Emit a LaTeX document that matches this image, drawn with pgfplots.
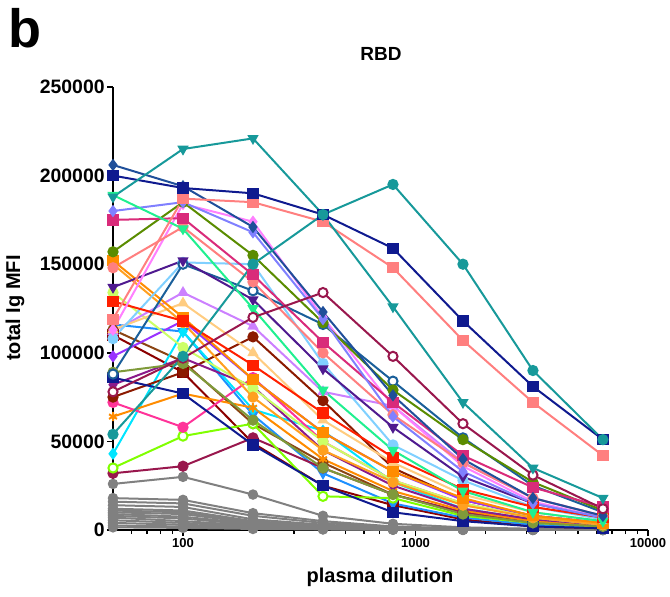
\documentclass[border=0pt]{standalone}
\usepackage{fontspec}
\setmainfont{Liberation Sans}
\usepackage{pgfplots}
\usepackage{pgfplotstable}
\pgfplotsset{compat=1.18}
\definecolor{tealA}{HTML}{17999A}
\definecolor{navyC}{HTML}{0F1A8F}
\definecolor{salmonD}{HTML}{FF7F7F}
\definecolor{steelE}{HTML}{1F4F9A}
\definecolor{springF}{HTML}{20F090}
\definecolor{slateG}{HTML}{8080FF}
\definecolor{ceriseH}{HTML}{D92B7A}
\definecolor{oliveI}{HTML}{5A8C00}
\definecolor{pinkJ}{HTML}{FF80FF}
\definecolor{indigoK}{HTML}{4F1A8F}
\definecolor{redL}{HTML}{FF2000}
\definecolor{steelM}{HTML}{1A5F9A}
\definecolor{lblueN}{HTML}{80D0FF}
\definecolor{orangeO}{HTML}{FF8C00}
\definecolor{orangeP}{HTML}{FFA020}
\definecolor{peachQ}{HTML}{FFCC80}
\definecolor{lilacR}{HTML}{CC80FF}
\definecolor{ygS}{HTML}{CCFF66}
\definecolor{violetT}{HTML}{9933FF}
\definecolor{oliveU}{HTML}{7F9A3A}
\definecolor{dmagW}{HTML}{8B1A8B}
\definecolor{dredX}{HTML}{8B1A00}
\definecolor{hpinkY}{HTML}{FF3399}
\definecolor{cyanAA}{HTML}{00E5FF}
\definecolor{chartAB}{HTML}{80FF00}
\definecolor{maroonAC}{HTML}{99174D}
\definecolor{dredAE}{HTML}{8B0000}
\definecolor{brownAF}{HTML}{8B4513}
\definecolor{dodgerAG}{HTML}{1E90FF}
\definecolor{grayS}{HTML}{808080}

\pgfplotstableread{
x g1 g2 g3 g4 g5 g6 g7 g8 g9 g10 g11 g12 g13 g14
50 26000 18000 16000 14000 12000 11000 10000 9000 8000 7000 5500 4000 2500 1500
100 30000 17000 15000 13000 11000 10000 9000 7500 6500 5000 4000 3000 2000 1200
200 20000 9500 8000 6000 5000 4500 4000 3500 3000 2500 2000 1500 1000 600
400 8000 5000 4000 3000 2500 2000 1800 1500 1300 1100 900 700 500 300
800 3500 2000 1500 1200 1000 900 800 700 600 500 400 300 200 150
1600 1500 900 700 600 500 400 400 300 300 250 200 150 100 80
3200 700 500 400 300 300 200 200 200 150 100 100 100 50 40
6400 400 300 200 200 100 100 100 100 100 50 50 50 20 20
}\graydata

\pgfplotstableread{
x c1 c2 c3 c4 c5 c6 c7 c8 c9 c10 c11 c12 c13 c14 c15 c16 c17 c18 c19 c20 c21 c22 c23 c24 c25 c26 c27 c28 c29 c30 c31 c32 c33 c34
50 188000 54000 200000 119000 206000 189000 180000 175000 157000 113000 137000 129000 88000 108000 152000 150000 113000 112000 134000 98000 89000 86000 82000 75000 72000 64000 43000 35000 32000 78000 110000 113000 116000 148000
100 215000 98000 193000 187000 194000 170000 185000 176000 185000 184000 152000 118000 150000 151000 120000 117000 128000 134000 103000 118000 94000 77000 97000 89000 58000 77000 112000 53000 36000 97000 89000 95000 112000 171000
200 221000 150000 190000 185000 171000 125000 168000 144000 155000 174000 130000 93000 135000 150000 85000 75000 100000 115000 80000 85000 62000 48000 81000 109000 86000 69000 68000 60000 52000 120000 49000 60000 65000 140000
400 178000 178000 178000 174000 123000 79000 119000 106000 117000 120000 91000 66000 116000 94000 55000 45000 62000 78000 50000 55000 35000 25000 45000 73000 50000 40000 56000 19000 35000 134000 25000 38000 32000 100000
800 126000 195000 159000 148000 76000 45000 64000 72000 79000 70000 58000 41000 84000 48000 33000 27000 38000 70000 28000 33000 20000 10000 25000 35000 28000 22000 27000 18000 20000 98000 14000 20000 15000 65000
1600 72000 150000 118000 107000 40000 22000 33000 42000 51000 36000 30000 23000 52000 28000 18000 14000 20000 38000 15000 17000 9000 5000 12000 17000 15000 11000 12000 8000 10000 60000 6000 10000 7000 38000
3200 35000 90000 81000 72000 18000 10000 15000 24000 27000 16000 15000 13000 25000 13000 8000 7000 10000 18000 7000 8000 4000 2000 6000 8000 7000 5000 6000 4000 5000 31000 2000 5000 3000 18000
6400 18000 51000 51000 42000 8000 5000 7000 13000 11000 7000 7000 7000 10000 6000 4000 3000 5000 8000 3000 4000 2000 1000 3000 4000 3000 2000 3000 2000 2000 12000 1000 2000 1000 8000
}\coldata

\begin{document}
\begin{tikzpicture}[x=1pt,y=1pt]
\useasboundingbox (0,0) rectangle (335,298);
\begin{axis}[
  at={(56.5pt,33pt)}, anchor=south west,
  scale only axis, width=267.5pt, height=221.5pt,
  xmode=log, xmin=50, xmax=10000, ymin=0, ymax=250000,
  clip=false,
  axis lines=left,
  axis line style={-, line width=1pt},
  tick align=outside,
  major tick length=3pt, minor tick length=2pt,
  every tick/.style={black, line width=0.8pt},
  xtick={100,1000,10000}, xticklabels={100,1000,10000},
  minor xtick={60,70,80,90,200,300,400,500,600,700,800,900,2000,3000,4000,5000,6000,7000,8000,9000},
  ytick={0,50000,100000,150000,200000,250000},
  yticklabels={0,50000,100000,150000,200000,250000},
  scaled y ticks=false,
  xticklabel style={font=\bfseries\fontsize{6.5}{7}\selectfont, inner sep=1pt},
  yticklabel style={font=\bfseries\fontsize{9.7}{10}\selectfont, inner sep=1pt},
  every axis plot/.append style={line width=1pt, mark size=2.3pt},
]
% gray series
\foreach \g in {g1,g2,g3,g4,g5,g6,g7,g8,g9,g10,g11,g12,g13,g14}{
  \addplot[color=grayS, mark=*, mark size=2.1pt] table[x=x,y=\g] {\graydata};
}
\addplot[color=dredAE, mark=square*] table[x=x,y=c31] {\coldata};
\addplot[color=dodgerAG, mark=triangle*, mark options={rotate=180}] table[x=x,y=c33] {\coldata};
\addplot[color=brownAF, mark=*] table[x=x,y=c32] {\coldata};
\addplot[color=maroonAC, mark=*] table[x=x,y=c29] {\coldata};
\addplot[color=chartAB, mark=*, mark options={fill=white}] table[x=x,y=c28] {\coldata};
\addplot[color=cyanAA, mark=diamond*] table[x=x,y=c27] {\coldata};
\addplot[color=orangeO, mark=asterisk] table[x=x,y=c26] {\coldata};
\addplot[color=hpinkY, mark=*] table[x=x,y=c25] {\coldata};
\addplot[color=dredX, mark=*] table[x=x,y=c24] {\coldata};
\addplot[color=dmagW, mark=diamond*] table[x=x,y=c23] {\coldata};
\addplot[color=navyC, mark=square*] table[x=x,y=c22] {\coldata};
\addplot[color=oliveU, mark=*] table[x=x,y=c21] {\coldata};
\addplot[color=violetT, mark=diamond*] table[x=x,y=c20] {\coldata};
\addplot[color=ygS, mark=*] table[x=x,y=c19] {\coldata};
\addplot[color=lilacR, mark=triangle*] table[x=x,y=c18] {\coldata};
\addplot[color=peachQ, mark=triangle*] table[x=x,y=c17] {\coldata};
\addplot[color=orangeP, mark=*] table[x=x,y=c16] {\coldata};
\addplot[color=orangeO, mark=square*] table[x=x,y=c15] {\coldata};
\addplot[color=lblueN, mark=*] table[x=x,y=c14] {\coldata};
\addplot[color=steelM, mark=*, mark options={fill=white}] table[x=x,y=c13] {\coldata};
\addplot[color=redL, mark=square*] table[x=x,y=c12] {\coldata};
\addplot[color=indigoK, mark=triangle*, mark options={rotate=180}] table[x=x,y=c11] {\coldata};
\addplot[color=pinkJ, mark=diamond*] table[x=x,y=c10] {\coldata};
\addplot[color=salmonD, mark=*] table[x=x,y=c34] {\coldata};
\addplot[color=oliveI, mark=*] table[x=x,y=c9] {\coldata};
\addplot[color=ceriseH, mark=square*] table[x=x,y=c8] {\coldata};
\addplot[color=slateG, mark=diamond*] table[x=x,y=c7] {\coldata};
\addplot[color=springF, mark=triangle*, mark options={rotate=180}] table[x=x,y=c6] {\coldata};
\addplot[color=steelE, mark=diamond*] table[x=x,y=c5] {\coldata};
\addplot[color=maroonAC, mark=*, mark options={fill=white}] table[x=x,y=c30] {\coldata};
\addplot[color=salmonD, mark=square*] table[x=x,y=c4] {\coldata};
\addplot[color=navyC, mark=square*] table[x=x,y=c3] {\coldata};
\addplot[color=tealA, mark=*] table[x=x,y=c2] {\coldata};
\addplot[color=tealA, mark=triangle*, mark options={rotate=180}] table[x=x,y=c1] {\coldata};
\end{axis}
\node[font=\bfseries\fontsize{27}{27}\selectfont] at (12.5,284) {b};
\node[font=\bfseries\fontsize{9.5}{10}\selectfont] at (190.5,271) {RBD};
\node[rotate=90, font=\bfseries\fontsize{10}{10}\selectfont] at (7.5,144) {total Ig MFI};
\node[font=\bfseries\fontsize{10}{10}\selectfont] at (190,9.5) {plasma dilution};
\end{tikzpicture}
\end{document}
